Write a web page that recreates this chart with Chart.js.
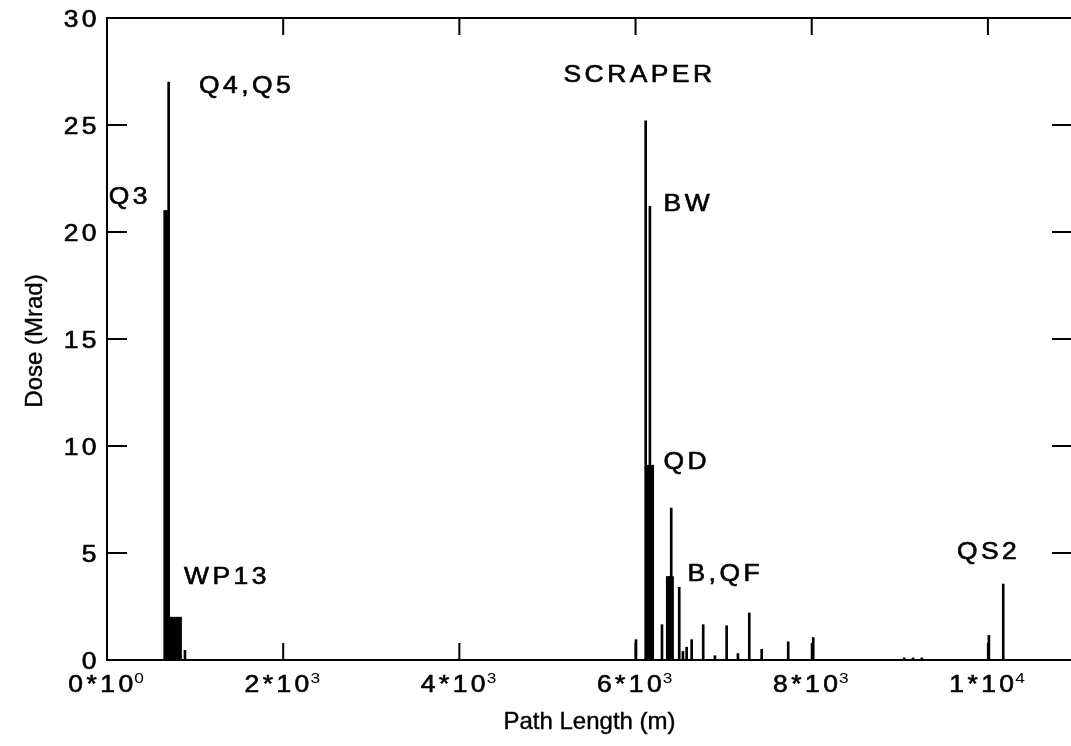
<!DOCTYPE html>
<html>
<head>
<meta charset="utf-8">
<script src="https://cdn.jsdelivr.net/npm/chart.js@4.4.0/dist/chart.umd.min.js"></script>
<style>
  html, body { margin: 0; padding: 0; background: #fff; overflow: hidden; }
</style>
</head>
<body>
<canvas id="doseChart" width="1080" height="746"></canvas>
<script>
// dose spikes (m, Mrad)
const pathLength = [655, 670, 685, 700, 715, 735, 755, 775, 795, 815, 835, 885,
  6005, 6115, 6130, 6145, 6163, 6180, 6195, 6300, 6360, 6375, 6390, 6405, 6420,
  6496, 6538, 6580, 6637, 6768, 6901, 7034, 7162, 7291, 7432, 7733, 8017,
  9050, 9150, 9250, 10011, 10174];
const dose = [21.0, 21.0, 21.0, 27.0, 2.0, 2.0, 2.0, 2.0, 2.0, 2.0, 2.0, 0.45,
  0.95, 25.2, 9.1, 9.1, 21.2, 9.1, 9.1, 1.65, 3.9, 3.9, 3.9, 7.1, 3.9,
  3.4, 0.4, 0.6, 0.95, 1.65, 0.2, 1.6, 0.3, 2.2, 0.5, 0.85, 1.05,
  0.1, 0.1, 0.1, 1.15, 3.55];

const xTicks = [0, 2000, 4000, 6000, 8000, 10000];
const xTickBase = ['0*10', '2*10', '4*10', '6*10', '8*10', '1*10'];
const xTickExp = ['0', '3', '3', '3', '3', '4'];
const yTicks = [0, 5, 10, 15, 20, 25, 30];

const labelText = ['Q4,Q5', 'Q3', 'WP13', 'SCRAPER', 'BW', 'QD', 'B,QF', 'QS2'];
const labelX = [1045, 20, 875, 5182, 6318, 6318, 6590, 9648];
const labelY = [26.8, 21.6, 3.83, 27.3, 21.3, 9.2, 4.0, 5.0];

const xTitle = 'Path Length (m)';
const yTitle = 'Dose (Mrad)';

const FONT = '"Liberation Sans", Arial, Helvetica, sans-serif';
const SX = 1.15; // the scan's lettering is a bit extended

function wideText(ctx, t, px, py, align) {
  ctx.save();
  ctx.translate(px, py);
  ctx.scale(SX, 1);
  ctx.textAlign = align;
  ctx.fillText(t, 0, 0);
  ctx.strokeText(t, 0, 0);
  ctx.restore();
}

const framePlugin = {
  id: 'frame',
  afterDraw(chart) {
    const { ctx, chartArea: a, scales: { x, y } } = chart;
    ctx.save();
    ctx.strokeStyle = '#000';
    ctx.lineWidth = 2;
    ctx.strokeRect(a.left, a.top, a.right - a.left, a.bottom - a.top);

    // inward tick marks on all four sides
    ctx.beginPath();
    xTicks.forEach(v => {
      const px = x.getPixelForValue(v);
      ctx.moveTo(px, a.bottom); ctx.lineTo(px, a.bottom - 17);
      ctx.moveTo(px, a.top); ctx.lineTo(px, a.top + 17);
    });
    yTicks.forEach(v => {
      const py = y.getPixelForValue(v);
      ctx.moveTo(a.left, py); ctx.lineTo(a.left + 20, py);
      ctx.moveTo(a.right, py); ctx.lineTo(a.right - 24, py);
    });
    ctx.stroke();

    ctx.fillStyle = '#000';
    ctx.lineWidth = 0.6;
    ctx.textBaseline = 'alphabetic';
    ctx.letterSpacing = '3px';

    // y tick labels
    ctx.font = '23px ' + FONT;
    yTicks.forEach(v => {
      wideText(ctx, String(v), a.left - 7, y.getPixelForValue(v) + 8.5, 'right');
    });

    // x tick labels, mantissa plus raised exponent
    xTicks.forEach((v, i) => {
      ctx.font = '23px ' + FONT;
      const w1 = ctx.measureText(xTickBase[i]).width;
      ctx.font = '15px ' + FONT;
      const w2 = ctx.measureText(xTickExp[i]).width;
      const start = x.getPixelForValue(v) - (w1 + w2) * SX / 2 + 2;
      ctx.save();
      ctx.translate(start, a.bottom + 32);
      ctx.scale(SX, 1);
      ctx.font = '23px ' + FONT;
      ctx.fillText(xTickBase[i], 0, 0);
      ctx.strokeText(xTickBase[i], 0, 0);
      ctx.font = '15px ' + FONT;
      ctx.fillText(xTickExp[i], w1 - 2, -9);
      ctx.restore();
    });

    // element labels
    ctx.font = '23px ' + FONT;
    ctx.textBaseline = 'middle';
    labelText.forEach((t, i) => {
      wideText(ctx, t, x.getPixelForValue(labelX[i]), y.getPixelForValue(labelY[i]), 'left');
    });

    // axis titles
    ctx.letterSpacing = '0px';
    ctx.lineWidth = 0.4;
    ctx.font = '24px ' + FONT;
    ctx.textAlign = 'center';
    ctx.fillText(xTitle, (a.left + a.right) / 2 - 2, a.bottom + 62);
    ctx.strokeText(xTitle, (a.left + a.right) / 2 - 2, a.bottom + 62);
    ctx.translate(35, (a.top + a.bottom) / 2 + 2);
    ctx.rotate(-Math.PI / 2);
    ctx.fillText(yTitle, 0, 0);
    ctx.strokeText(yTitle, 0, 0);
    ctx.restore();
  }
};

const ctxDose = document.getElementById('doseChart').getContext('2d');
const doseChart = new Chart(ctxDose, {
  type: 'bar',
  data: {
    datasets: [{
      data: pathLength.map((p, i) => ({ x: p, y: dose[i] })),
      backgroundColor: '#000',
      borderWidth: 0,
      barThickness: 2
    }]
  },
  options: {
    responsive: false,
    animation: false,
    layout: { padding: { top: 18, right: 4, left: 0, bottom: 0 } },
    plugins: {
      legend: { display: false },
      tooltip: { enabled: false }
    },
    scales: {
      x: {
        type: 'linear',
        min: 0,
        max: 11000,
        offset: false,
        grid: { display: false, drawTicks: false },
        border: { display: false },
        afterBuildTicks: s => { s.ticks = xTicks.map(v => ({ value: v })); },
        afterFit: s => { s.height = 86; },
        ticks: { display: false }
      },
      y: {
        min: 0,
        max: 30,
        grid: { display: false, drawTicks: false },
        border: { display: false },
        afterBuildTicks: s => { s.ticks = yTicks.map(v => ({ value: v })); },
        afterFit: s => { s.width = 107; },
        ticks: { display: false }
      }
    }
  },
  plugins: [framePlugin]
});
</script>
</body>
</html>
